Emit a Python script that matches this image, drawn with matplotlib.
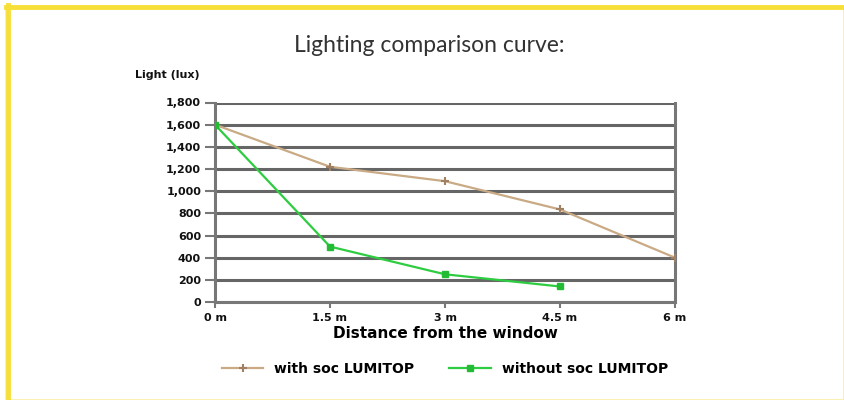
import matplotlib
matplotlib.use("Agg")
import matplotlib.pyplot as plt
from matplotlib.patches import Rectangle
from matplotlib.ticker import FuncFormatter

distances = [0, 1.5, 3, 4.5, 6]
x_labels = ["0 m", "1.5 m", "3 m", "4.5 m", "6 m"]
with_lumitop = [1600, 1220, 1090, 835, 400]
dist_without = [0, 1.5, 3, 4.5]
without_lumitop = [1600, 500, 250, 140]
y_ticks = [0, 200, 400, 600, 800, 1000, 1200, 1400, 1600, 1800]

fig = plt.figure(figsize=(8.45, 4.0), dpi=100)
fig.patch.set_facecolor("white")

# yellow frame
fig.add_artist(Rectangle((6/845, 0.5/400), 838/845, 393/400, transform=fig.transFigure,
                         fill=False, edgecolor="#fbeea0", lw=1.2))
fig.add_artist(plt.Line2D([6/845, 1.0], [1-6.5/400, 1-6.5/400], transform=fig.transFigure,
                          color="#f7df3a", lw=3.5))
fig.add_artist(plt.Line2D([8/845, 8/845], [0.0, 1-5/400], transform=fig.transFigure,
                          color="#f7df3a", lw=3.5))

ax = fig.add_axes([215/845, 1-302/400, 460/845, 199.5/400])
ax.set_xlim(0, 6)
ax.set_ylim(0, 1800)

ax.yaxis.grid(True, color="#666666", lw=2.2)
ax.set_axisbelow(True)

ax.plot(distances, with_lumitop, color="#c9aa85", lw=1.6, marker="+", ms=6,
        mew=1.5, mec="#a08060", label="with soc LUMITOP", zorder=3)
ax.plot(dist_without, without_lumitop, color="#2ecc40", lw=1.6, marker="s", ms=4,
        mfc="#22bb33", mec="#22bb33", label="without soc LUMITOP", zorder=3)

ax.set_yticks(y_ticks)
ax.yaxis.set_major_formatter(FuncFormatter(lambda v, p: f"{int(v):,}"))
ax.set_xticks(distances)
ax.set_xticklabels(x_labels)
for lab in ax.get_xticklabels() + ax.get_yticklabels():
    lab.set_fontweight("bold")
    lab.set_fontsize(8)
    lab.set_color("#111111")

for side in ["left", "bottom", "right"]:
    ax.spines[side].set_color("#777777")
    ax.spines[side].set_linewidth(2.2)
ax.spines["top"].set_visible(False)
ax.tick_params(axis="y", length=7, width=1.5, color="#777777", pad=3)
ax.tick_params(axis="x", length=4, width=1.5, color="#777777", pad=4)

ax.set_xlabel("Distance from the window", fontsize=11, fontweight="bold", labelpad=2)

fig.text(135/845, 1-75/400, "Light (lux)", fontsize=8, fontweight="bold",
         ha="left", va="center", color="#111111")
fig.text(429/845, 1-45/400, "Lighting comparison curve:", fontsize=16.5,
         family="Lato", ha="center", va="center", color="#333333")

leg = fig.legend(loc="center", bbox_to_anchor=(445/845, 1-369/400), ncol=2,
                 frameon=False, fontsize=10, handlelength=3, columnspacing=2.5)
for t in leg.get_texts():
    t.set_fontweight("bold")

fig.savefig("out.png", dpi=100)
